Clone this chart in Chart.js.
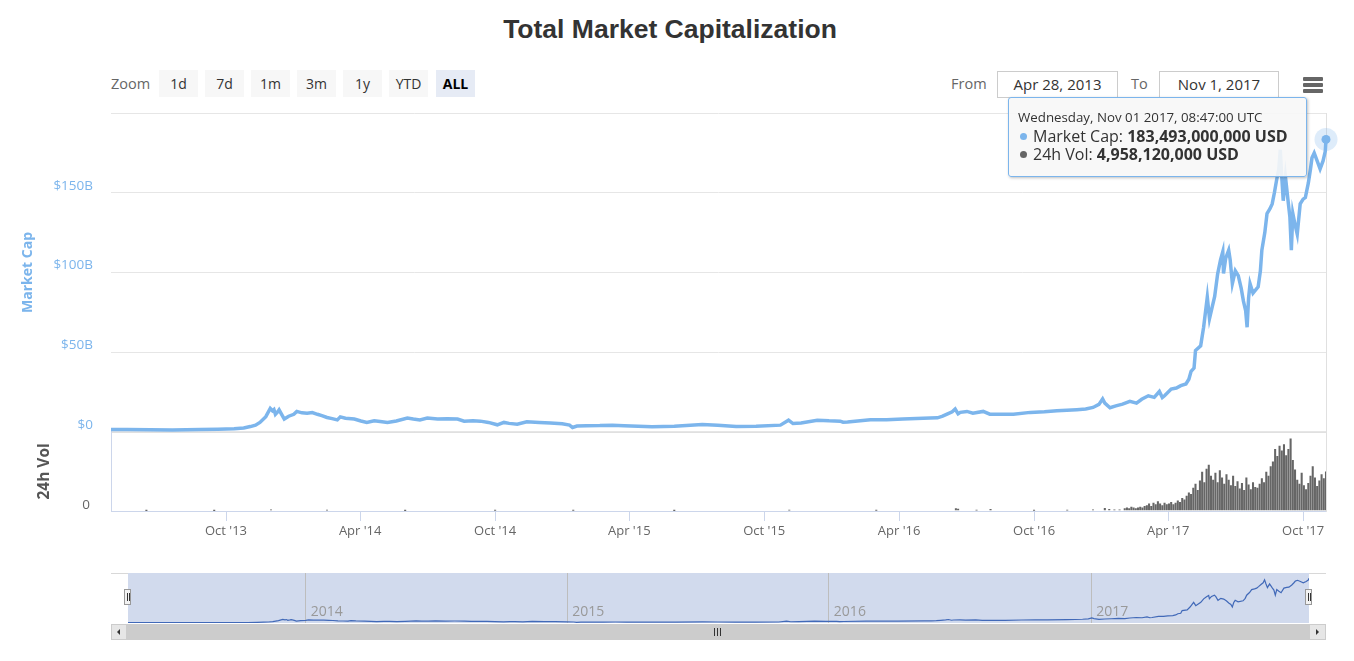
<!DOCTYPE html>
<html>
<head>
<meta charset="utf-8">
<script src="https://cdn.jsdelivr.net/npm/chart.js@4.4.0/dist/chart.umd.min.js"></script>
<style>
  html, body { margin: 0; padding: 0; background: #fff; }
  body { width: 1354px; height: 661px; position: relative; overflow: hidden; font-family: 'Open Sans', sans-serif; color: #333; }
  .abs { position: absolute; }
  #title { left: 0; width: 1340px; top: 14px; text-align: center; font: 700 26.5px 'Liberation Sans', Arial, sans-serif; color: #333; }
  .lbl { font-size: 14.5px; color: #666; line-height: 27px; }
  .btn { top: 70px; width: 39px; height: 27px; background: #f7f7f7; font-size: 14px; line-height: 27px; text-align: center; color: #333; }
  .btn.on { background: #e6ebf5; font-weight: 700; color: #000; }
  .inp { top: 71px; height: 25px; border: 1px solid #ccc; background: #fff; font-size: 15px; line-height: 25px; text-align: center; color: #333; }
  .bar3 { left: 1303px; width: 20px; height: 3.5px; background: #666; border-radius: 1px; }
  #tip { left: 1008px; top: 97px; width: 299px; height: 80px; box-sizing: border-box; background: rgba(247,247,247,0.9);
         border: 1px solid #7cb5ec; border-radius: 3px; box-shadow: 1px 1px 3px rgba(0,0,0,0.25); z-index: 5; }
  #tip div { position: absolute; left: 9px; white-space: nowrap; color: #333; }
  .dot { display: inline-block; width: 7px; height: 7px; border-radius: 50%; margin: 0 6px 2px 2px; }
  canvas { position: absolute; left: 0; }
  .handle { width: 7px; height: 16px; top: 589px; background: #f2f2f2; border: 1px solid #999; box-sizing: border-box; }
  .handle i { position: absolute; top: 3px; width: 1px; height: 8px; background: #333; }
</style>
</head>
<body>
<div id="title" class="abs">Total Market Capitalization</div>

<div class="abs lbl" style="left:111px;top:70px;">Zoom</div>
<div class="abs btn" style="left:159px;">1d</div>
<div class="abs btn" style="left:205px;">7d</div>
<div class="abs btn" style="left:251px;">1m</div>
<div class="abs btn" style="left:297px;">3m</div>
<div class="abs btn" style="left:343px;">1y</div>
<div class="abs btn" style="left:389px;">YTD</div>
<div class="abs btn on" style="left:436px;">ALL</div>

<div class="abs lbl" style="left:951px;top:70px;">From</div>
<div class="abs inp" style="left:997px;width:119px;">Apr 28, 2013</div>
<div class="abs lbl" style="left:1131px;top:70px;">To</div>
<div class="abs inp" style="left:1159px;width:118px;">Nov 1, 2017</div>
<div class="abs bar3" style="top:77px;"></div>
<div class="abs bar3" style="top:83px;"></div>
<div class="abs bar3" style="top:89px;"></div>

<canvas id="main" width="1354" height="461" style="top:84px;"></canvas>

<div id="tip" class="abs">
  <div style="top:10px;font-size:13.3px;">Wednesday, Nov 01 2017, 08:47:00 UTC</div>
  <div style="top:27px;font-size:16px;"><span class="dot" style="background:#7cb5ec"></span>Market Cap: <b>183,493,000,000 USD</b></div>
  <div style="top:45px;font-size:16px;"><span class="dot" style="background:#666"></span>24h Vol: <b>4,958,120,000 USD</b></div>
</div>

<div class="abs" style="left:111px;top:573px;width:1215px;height:1px;background:#d8d8d8;"></div>
<canvas id="nav" width="1354" height="50" style="top:573px;"></canvas>

<!-- scrollbar -->
<div class="abs" style="left:111px;top:624px;width:1215px;height:16px;background:#f2f2f2;"></div>
<div class="abs" style="left:127px;top:624px;width:1182px;height:16px;background:#cccccc;"></div>
<div class="abs" style="left:111px;top:624px;width:16px;height:16px;background:#e6e6e6;border:1px solid #ccc;box-sizing:border-box;"></div>
<div class="abs" style="left:117px;top:629px;width:0;height:0;border-top:3px solid transparent;border-bottom:3px solid transparent;border-right:3px solid #333;"></div>
<div class="abs" style="left:1309px;top:624px;width:17px;height:16px;background:#e6e6e6;border:1px solid #ccc;box-sizing:border-box;"></div>
<div class="abs" style="left:1316px;top:629px;width:0;height:0;border-top:3px solid transparent;border-bottom:3px solid transparent;border-left:3px solid #333;"></div>
<div class="abs" style="left:714px;top:628px;width:1px;height:8px;background:#333;"></div>
<div class="abs" style="left:717px;top:628px;width:1px;height:8px;background:#333;"></div>
<div class="abs" style="left:720px;top:628px;width:1px;height:8px;background:#333;"></div>

<div class="abs handle" style="left:124px;"><i style="left:2px"></i><i style="left:4px"></i></div>
<div class="abs handle" style="left:1305px;"><i style="left:2px"></i><i style="left:4px"></i></div>

<script>
// ── data ──────────────────────────────────────────────
const rangeStart = '2013-04-28';
const rangeEnd = '2017-11-01';

const capDates = [
  '2013-04-28','2013-05-20','2013-06-20','2013-07-20','2013-08-27','2013-09-20','2013-10-12','2013-10-25',
  '2013-11-03','2013-11-10','2013-11-16','2013-11-24','2013-11-30','2013-12-03','2013-12-05','2013-12-07',
  '2013-12-10','2013-12-12','2013-12-16','2013-12-19','2013-12-25','2014-01-01','2014-01-05','2014-01-12',
  '2014-01-19','2014-01-26','2014-02-02','2014-02-08','2014-02-15','2014-02-22','2014-03-01','2014-03-05',
  '2014-03-12','2014-03-24','2014-04-02','2014-04-10','2014-04-20','2014-04-28','2014-05-08','2014-05-20',
  '2014-06-04','2014-06-12','2014-06-21','2014-07-01','2014-07-15','2014-07-28','2014-08-11','2014-08-20',
  '2014-09-01','2014-09-11','2014-09-22','2014-10-04','2014-10-13','2014-10-20','2014-10-31','2014-11-13',
  '2014-11-30','2014-12-15','2014-12-31','2015-01-10','2015-01-14','2015-01-20','2015-02-02','2015-02-20',
  '2015-03-09','2015-03-25','2015-05-02','2015-06-01','2015-07-09','2015-07-30','2015-08-24','2015-09-20',
  '2015-10-23','2015-11-03','2015-11-09','2015-11-20','2015-12-12','2015-12-28','2016-01-12','2016-01-16',
  '2016-01-22','2016-02-22','2016-03-15','2016-04-06','2016-05-13','2016-05-23','2016-05-30','2016-06-05',
  '2016-06-12','2016-06-16','2016-06-20','2016-06-23','2016-07-02','2016-07-10','2016-07-24','2016-08-02',
  '2016-08-15','2016-09-03','2016-09-26','2016-10-15','2016-11-01','2016-11-28','2016-12-10','2016-12-20',
  '2016-12-28','2017-01-02','2017-01-05','2017-01-12','2017-01-20','2017-01-29','2017-02-08','2017-02-17',
  '2017-02-24','2017-03-05','2017-03-13','2017-03-20','2017-03-24','2017-03-27','2017-04-05','2017-04-12',
  '2017-04-18','2017-04-25','2017-04-29','2017-05-02','2017-05-06','2017-05-08','2017-05-15','2017-05-19',
  '2017-05-24','2017-05-27','2017-05-31','2017-06-03','2017-06-07','2017-06-11','2017-06-14','2017-06-15',
  '2017-06-18','2017-06-22','2017-06-24','2017-06-27','2017-07-01','2017-07-05','2017-07-09','2017-07-12',
  '2017-07-15','2017-07-17','2017-07-19','2017-07-21','2017-07-25','2017-08-01','2017-08-04','2017-08-06',
  '2017-08-10','2017-08-13','2017-08-17','2017-08-20','2017-08-23','2017-08-26','2017-08-29','2017-08-31',
  '2017-09-02','2017-09-04','2017-09-07','2017-09-11','2017-09-13','2017-09-15','2017-09-17','2017-09-20',
  '2017-09-23','2017-09-27','2017-10-01','2017-10-04','2017-10-08','2017-10-11','2017-10-13','2017-10-16',
  '2017-10-20','2017-10-24','2017-10-28','2017-10-31','2017-11-01'
];
// market cap, billions USD
const capValues = [
  1.5, 1.4, 1.3, 1.2, 1.4, 1.6, 1.9, 2.4,
  3.3, 4.2, 5.9, 9.5, 14.7, 13.2, 14.0, 11.0,
  12.5, 13.8, 10.5, 8.0, 9.8, 11.0, 12.8, 11.9,
  11.7, 12.1, 11.0, 10.2, 9.0, 8.3, 7.5, 9.4,
  8.5, 8.0, 6.8, 5.9, 6.9, 6.5, 5.9, 6.8,
  8.6, 8.0, 7.5, 8.6, 8.0, 8.2, 8.0, 6.7,
  6.9, 6.7, 5.9, 4.4, 5.9, 5.3, 4.8, 6.3,
  5.9, 5.6, 5.0, 4.2, 2.7, 3.6, 3.8, 3.9,
  4.2, 3.8, 3.2, 3.5, 4.6, 4.1, 3.4, 3.5,
  4.2, 7.3, 5.2, 5.5, 7.3, 6.9, 6.7, 6.0,
  6.1, 7.5, 7.6, 8.0, 8.6, 8.8, 9.8, 11.1,
  12.6, 14.3, 11.3, 12.2, 12.8, 11.7, 12.8, 11.1,
  11.0, 11.1, 12.2, 12.6, 13.2, 13.9, 14.3, 15.3,
  17.2, 20.6, 18.0, 15.1, 16.3, 17.4, 19.1, 18.0,
  20.4, 22.6, 21.6, 25.3, 21.5, 22.6, 26.8, 27.5,
  29.0, 30.0, 33.0, 38.0, 40.0, 51.0, 54.0, 65.6,
  84.5, 71.0, 79.0, 85.0, 99.0, 108, 113, 99.4,
  109, 114, 108, 93, 101, 98, 90, 82,
  76, 65.6, 84, 93, 87, 91, 101, 114,
  125, 137, 140, 143, 150, 158, 165, 177,
  160, 145, 160, 143, 135, 114, 137, 130,
  124, 143, 146, 147, 156, 165, 172, 175,
  170, 165, 170, 176, 183.493
];

const volDates = [
  '2013-06-15','2013-09-15','2013-12-01','2014-02-15','2014-06-01','2014-10-01','2015-01-15','2015-06-01',
  '2015-11-04','2016-03-01','2016-06-17','2016-06-20','2016-07-15','2016-08-03','2016-10-01','2016-11-15',
  '2016-12-20','2017-01-05','2017-01-11','2017-01-18','2017-01-25',
  '2017-02-01','2017-02-04','2017-02-07','2017-02-10','2017-02-13','2017-02-16','2017-02-19','2017-02-22','2017-02-25','2017-02-28',
  '2017-03-03','2017-03-06','2017-03-09','2017-03-12','2017-03-15','2017-03-18','2017-03-21','2017-03-24','2017-03-27','2017-03-30',
  '2017-04-02','2017-04-05','2017-04-08','2017-04-11','2017-04-14','2017-04-17','2017-04-20','2017-04-23','2017-04-26','2017-04-29',
  '2017-05-02','2017-05-05','2017-05-08','2017-05-11','2017-05-14','2017-05-17','2017-05-20','2017-05-23','2017-05-26','2017-05-29',
  '2017-06-01','2017-06-04','2017-06-07','2017-06-10','2017-06-13','2017-06-16','2017-06-19','2017-06-22','2017-06-25','2017-06-28',
  '2017-07-01','2017-07-04','2017-07-07','2017-07-10','2017-07-13','2017-07-16','2017-07-19','2017-07-22','2017-07-25','2017-07-28','2017-07-31',
  '2017-08-03','2017-08-06','2017-08-09','2017-08-12','2017-08-15','2017-08-18','2017-08-21','2017-08-24','2017-08-27','2017-08-30',
  '2017-09-02','2017-09-05','2017-09-08','2017-09-11','2017-09-14','2017-09-17','2017-09-20','2017-09-23','2017-09-26','2017-09-29',
  '2017-10-02','2017-10-05','2017-10-08','2017-10-11','2017-10-14','2017-10-17','2017-10-20','2017-10-23','2017-10-26','2017-10-29',
  '2017-11-01'
];
// 24h volume, billions USD
const volValues = [
  0.02, 0.03, 0.15, 0.1, 0.05, 0.06, 0.08, 0.04,
  0.12, 0.06, 0.3, 0.25, 0.1, 0.2, 0.08, 0.1,
  0.15, 0.35, 0.2, 0.15, 0.15,
  0.3, 0.4, 0.3, 0.5, 0.4, 0.3, 0.4, 0.5, 0.4, 0.6,
  0.7, 0.9, 0.6, 1.0, 0.8, 1.2, 0.9, 0.7, 1.0, 0.8,
  0.9, 1.1, 0.8, 1.0, 1.3, 1.1, 1.6, 1.4, 1.9, 2.3,
  2.1, 2.9, 3.4, 2.6, 3.8, 4.9, 3.6, 5.3, 5.8, 4.4,
  3.9, 4.8, 3.6, 5.1, 4.2, 3.4, 4.6, 3.9, 3.2, 4.4,
  3.1, 3.7, 2.8, 3.5, 2.6, 4.2, 3.3, 2.7, 3.6, 3.0, 2.9,
  3.4, 4.1, 3.6, 4.9, 4.4, 5.6, 6.2, 7.8, 6.9, 8.2,
  7.6, 8.4, 7.0, 7.8, 9.1, 6.4, 5.2, 3.9, 3.4, 4.8,
  3.2, 2.7, 3.5, 4.4, 5.6, 4.2, 3.1, 3.8, 4.6, 4.1,
  4.96
];

const xTickDates = ['2013-10-01','2014-04-01','2014-10-01','2015-04-01','2015-10-01','2016-04-01','2016-10-01','2017-04-01','2017-10-01'];
const xTickLabels = ["Oct '13","Apr '14","Oct '14","Apr '15","Oct '15","Apr '16","Oct '16","Apr '17","Oct '17"];
const navYearDates = ['2014-01-01','2015-01-01','2016-01-01','2017-01-01'];
const navYearLabels = ['2014','2015','2016','2017'];

// ── helpers ───────────────────────────────────────────
const day = s => Date.UTC(+s.slice(0, 4), +s.slice(5, 7) - 1, +s.slice(8, 10)) / 864e5;
const xMin = day(rangeStart), xMax = day(rangeEnd);
const capPoints = capDates.map((d, i) => ({ x: day(d), y: capValues[i] }));
const volPoints = volDates.map((d, i) => ({ x: day(d), y: volValues[i] }));
const lastIdx = capPoints.length - 1;

Chart.defaults.font.family = "'Open Sans', sans-serif";
Chart.defaults.color = '#666';

// halo behind the hovered (last) point
const haloPlugin = {
  id: 'halo',
  beforeDatasetsDraw(chart) {
    const pt = chart.getDatasetMeta(0).data[lastIdx];
    if (!pt) return;
    const ctx = chart.ctx;
    ctx.save();
    ctx.beginPath();
    ctx.arc(pt.x, pt.y, 11.5, 0, Math.PI * 2);
    ctx.fillStyle = 'rgba(124,181,236,0.25)';
    ctx.fill();
    ctx.restore();
  }
};

const fixWidth = w => s => { s.width = w; };

new Chart(document.getElementById('main'), {
  type: 'line',
  data: {
    datasets: [
      {
        type: 'line', data: capPoints, yAxisID: 'y',
        borderColor: '#7cb5ec', borderWidth: 3.5, tension: 0, clip: 10,
        pointRadius: c => (c.dataIndex === lastIdx ? 4.5 : 0),
        pointBackgroundColor: '#7cb5ec', pointBorderWidth: 0, order: 1
      },
      {
        type: 'bar', data: volPoints, yAxisID: 'yv',
        backgroundColor: '#666', barThickness: 1.4, order: 2
      }
    ]
  },
  options: {
    responsive: false, animation: false, events: [],
    layout: { padding: { top: 13, right: 28, left: 0, bottom: 0 } },
    plugins: { legend: { display: false }, tooltip: { enabled: false } },
    scales: {
      x: {
        type: 'linear', min: xMin, max: xMax, offset: false,
        afterBuildTicks: s => { s.ticks = xTickDates.map(d => ({ value: day(d) })); },
        afterFit: s => { s.height = 34; },
        grid: { drawOnChartArea: false, drawTicks: true, tickLength: 10, color: '#ccd6eb', offset: false },
        border: { color: '#ccd6eb' },
        ticks: {
          autoSkip: false, maxRotation: 0, padding: 2, color: '#666', font: { size: 13 },
          callback: v => xTickLabels[xTickDates.findIndex(d => day(d) === v)]
        }
      },
      yv: {
        position: 'left', stack: 'panes', stackWeight: 79,
        min: 0, max: 10,
        afterFit: fixWidth(111),
        grid: { drawTicks: false, color: c => (c.tick && c.tick.value === 10 ? '#e0e0e0' : 'rgba(0,0,0,0)'), lineWidth: 2 },
        border: { display: true, color: '#ccd6eb' },
        ticks: { stepSize: 10, padding: 21, labelOffset: -6, color: '#666', font: { size: 13.5 }, callback: v => (v === 0 ? '0' : '') },
        title: { display: true, text: '24h Vol', color: '#555', font: { size: 15.5, weight: 'bold' }, padding: { top: 35, bottom: 0 } }
      },
      y: {
        position: 'left', stack: 'panes', stackWeight: 318,
        min: 0, max: 200,
        afterFit: fixWidth(111),
        grid: { drawTicks: false, color: '#e6e6e6' },
        border: { display: false },
        ticks: { stepSize: 50, padding: 18, labelOffset: -7, color: '#7cb5ec', font: { size: 13.5 }, callback: v => (v === 200 ? '' : '$' + v + (v === 0 ? '' : 'B')) },
        title: { display: true, text: 'Market Cap', color: '#7cb5ec', font: { size: 14, weight: 'bold' }, padding: { top: 20, bottom: 0 } }
      },
      yr: {
        position: 'right', min: 0, max: 1,
        afterFit: fixWidth(0),
        grid: { display: false },
        border: { display: true, color: '#e0e0e0' },
        ticks: { display: false }
      }
    }
  },
  plugins: [haloPlugin]
});

// ── navigator ─────────────────────────────────────────
const navMask = {
  id: 'navMask',
  beforeDraw(chart) {
    const a = chart.chartArea;
    chart.ctx.save();
    chart.ctx.fillStyle = 'rgb(209,218,237)';
    chart.ctx.fillRect(a.left, a.top, a.right - a.left, a.bottom - a.top);
    chart.ctx.restore();
  }
};
const navLabels = {
  id: 'navLabels',
  afterDraw(chart) {
    const ctx = chart.ctx, sx = chart.scales.x;
    ctx.save();
    ctx.fillStyle = '#999';
    ctx.font = "14px 'Open Sans', sans-serif";
    ctx.textBaseline = 'middle';
    navYearDates.forEach((d, i) => ctx.fillText(navYearLabels[i], sx.getPixelForValue(day(d)) + 5, 39));
    ctx.restore();
  }
};

new Chart(document.getElementById('nav'), {
  type: 'line',
  data: { datasets: [{ data: capPoints, borderColor: '#4169b8', borderWidth: 1.2, pointRadius: 0, tension: 0 }] },
  options: {
    responsive: false, animation: false, events: [],
    layout: { padding: { left: 128, right: 45, top: 0, bottom: 0 } },
    plugins: { legend: { display: false }, tooltip: { enabled: false } },
    scales: {
      x: {
        type: 'linear', min: xMin, max: xMax,
        afterBuildTicks: s => { s.ticks = navYearDates.map(d => ({ value: day(d) })); },
        afterFit: s => { s.height = 0; },
        grid: { color: '#bdbdbd', drawTicks: false },
        border: { display: false },
        ticks: { display: false }
      },
      y: { display: false, min: 0, max: 205 }
    }
  },
  plugins: [navMask, navLabels]
});
</script>
</body>
</html>
